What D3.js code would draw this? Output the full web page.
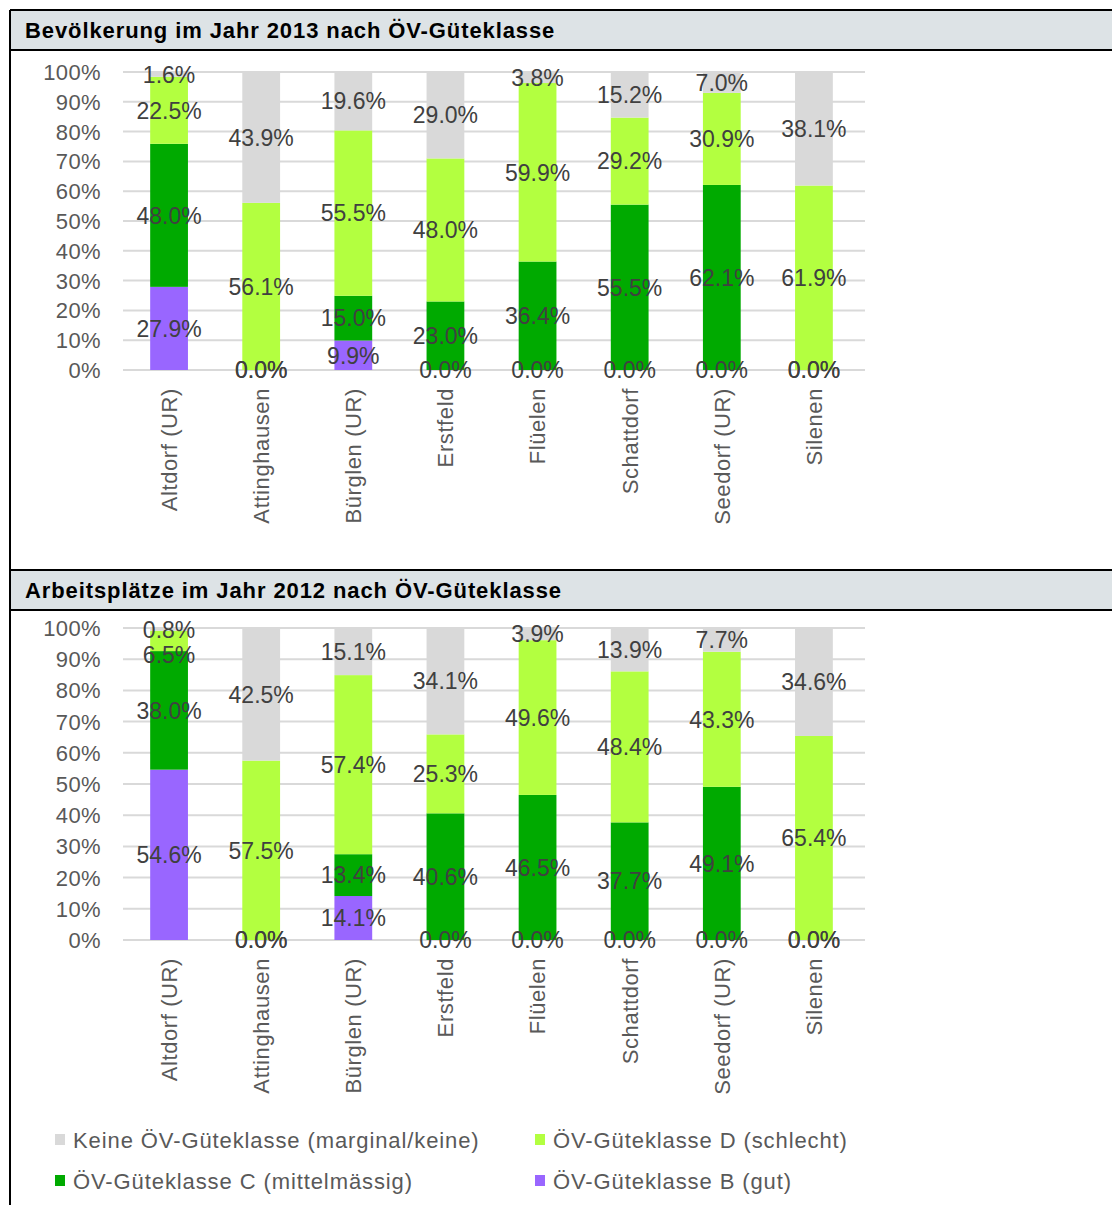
<!DOCTYPE html>
<html>
<head>
<meta charset="utf-8">
<script src="https://cdn.jsdelivr.net/npm/d3@7"></script>
<style>
  body { margin: 0; background: #fff; }
  svg { display: block; font-family: "Liberation Sans", Arial, sans-serif; }
</style>
</head>
<body>
<div id="chart"></div>
<script>
// Categories and tick labels
const categories = ["Altdorf (UR)", "Attinghausen", "Bürglen (UR)", "Erstfeld", "Flüelen", "Schattdorf", "Seedorf (UR)", "Silenen"];
const yTicks = [0, 10, 20, 30, 40, 50, 60, 70, 80, 90, 100];

// Series (bottom to top in the stack)
const seriesKeys = ["B", "C", "D", "K"];
const seriesNames = {
    K: "Keine ÖV-Güteklasse (marginal/keine)",
    D: "ÖV-Güteklasse D (schlecht)",
    C: "ÖV-Güteklasse C (mittelmässig)",
    B: "ÖV-Güteklasse B (gut)"
};
const seriesColors = { K: "#d9d9d9", D: "#b3ff40", C: "#00aa00", B: "#9966ff" };
const legendOrder = ["K", "D", "C", "B"];

// Bevölkerung 2013 (%)
const pop_B = [27.9, 0.0, 9.9, 0.0, 0.0, 0.0, 0.0, 0.0];
const pop_C = [48.0, 0.0, 15.0, 23.0, 36.4, 55.5, 62.1, 0.0];
const pop_D = [22.5, 56.1, 55.5, 48.0, 59.9, 29.2, 30.9, 61.9];
const pop_K = [1.6, 43.9, 19.6, 29.0, 3.8, 15.2, 7.0, 38.1];

// Arbeitsplätze 2012 (%)
const job_B = [54.6, 0.0, 14.1, 0.0, 0.0, 0.0, 0.0, 0.0];
const job_C = [38.0, 0.0, 13.4, 40.6, 46.5, 37.7, 49.1, 0.0];
const job_D = [6.5, 57.5, 57.4, 25.3, 49.6, 48.4, 43.3, 65.4];
const job_K = [0.8, 42.5, 15.1, 34.1, 3.9, 13.9, 7.7, 34.6];

const W = 1112, H = 1205;

const svg = d3.select("#chart")
    .append("svg")
    .attr("width", W)
    .attr("height", H);

// Build rows for d3.stack
function buildRows(B, C, D, K) {
    return categories.map((c, i) => ({ cat: c, B: B[i], C: C[i], D: D[i], K: K[i] }));
}

const x = d3.scaleBand()
    .domain(categories)
    .range([123, 860])
    .paddingInner(0.59)
    .paddingOuter(0.295);

function drawPanel(title, rows, headerTop, yBottom, yTop) {
    const g = svg.append("g");

    // Header box
    g.append("rect")
        .attr("x", 10).attr("y", headerTop)
        .attr("width", W - 10).attr("height", 40)
        .attr("fill", "#dde3e6");
    g.append("text")
        .attr("x", 25).attr("y", headerTop + 28)
        .attr("font-size", "22px")
        .attr("font-weight", "bold")
        .attr("letter-spacing", "0.9px")
        .attr("fill", "#000")
        .text(title);

    const y = d3.scaleLinear().domain([0, 100]).range([yBottom, yTop]);

    // Grid lines
    g.append("g")
        .selectAll("line")
        .data(yTicks)
        .enter()
        .append("line")
        .attr("x1", 123).attr("x2", 865)
        .attr("y1", d => y(d)).attr("y2", d => y(d))
        .attr("stroke", "#d9d9d9")
        .attr("stroke-width", 2);

    // Y tick labels
    g.append("g")
        .selectAll("text")
        .data(yTicks)
        .enter()
        .append("text")
        .attr("x", 101)
        .attr("y", d => y(d))
        .attr("dy", "0.36em")
        .attr("text-anchor", "end")
        .attr("font-size", "22px")
        .attr("letter-spacing", "0.4px")
        .attr("fill", "#595959")
        .text(d => d + "%");

    const stacked = d3.stack().keys(seriesKeys)(rows);

    // Bars
    g.append("g")
        .selectAll("g")
        .data(stacked)
        .enter()
        .append("g")
        .attr("fill", d => seriesColors[d.key])
        .selectAll("rect")
        .data(d => d)
        .enter()
        .append("rect")
        .attr("x", d => x(d.data.cat))
        .attr("width", x.bandwidth())
        .attr("y", d => y(d[1]))
        .attr("height", d => y(d[0]) - y(d[1]));

    // Value labels: centred in each segment, nudged down when two
    // non-zero labels in the same bar would collide
    const labels = [];
    categories.forEach((c, i) => {
        let prevY = -Infinity;
        [...stacked].reverse().forEach(s => {
            const d = s[i];
            const v = d.data[s.key];
            let ly = y((d[0] + d[1]) / 2);
            if (v > 0) {
                if (ly < prevY + 25) ly = prevY + 25;
                prevY = ly;
            }
            labels.push({ cat: c, v: v, y: ly });
        });
    });

    g.append("g")
        .selectAll("text")
        .data(labels)
        .enter()
        .append("text")
        .attr("x", d => x(d.cat) + x.bandwidth() / 2)
        .attr("y", d => d.y)
        .attr("dy", "0.36em")
        .attr("text-anchor", "middle")
        .attr("font-size", "23px")
        .attr("fill", "#404040")
        .text(d => d3.format(".1f")(d.v) + "%");

    // Category labels (rotated)
    g.append("g")
        .selectAll("text")
        .data(categories)
        .enter()
        .append("text")
        .attr("transform", d => `translate(${x(d) + x.bandwidth() / 2},${yBottom + 18}) rotate(-90)`)
        .attr("dy", "0.36em")
        .attr("text-anchor", "end")
        .attr("font-size", "22px")
        .attr("letter-spacing", "0.6px")
        .attr("fill", "#595959")
        .text(d => d);
}

drawPanel("Bevölkerung im Jahr 2013 nach ÖV-Güteklasse", buildRows(pop_B, pop_C, pop_D, pop_K), 10, 370, 72);
drawPanel("Arbeitsplätze im Jahr 2012 nach ÖV-Güteklasse", buildRows(job_B, job_C, job_D, job_K), 570, 940, 628);

// Frame lines
const frame = svg.append("g").attr("stroke", "#000").attr("stroke-width", 2);
frame.append("line").attr("x1", 10).attr("x2", 10).attr("y1", 10).attr("y2", H);
[10, 50, 570, 610].forEach(yy => {
    frame.append("line").attr("x1", 10).attr("x2", W).attr("y1", yy).attr("y2", yy);
});

// Legend
const legend = svg.append("g");
legendOrder.forEach((k, i) => {
    const col = i % 2, row = Math.floor(i / 2);
    const lx = col === 0 ? 55 : 535;
    const ly = 1140 + row * 41;
    legend.append("rect")
        .attr("x", lx).attr("y", ly - 6)
        .attr("width", 10).attr("height", 11)
        .attr("fill", seriesColors[k]);
    legend.append("text")
        .attr("x", lx + 18).attr("y", ly)
        .attr("dy", "0.36em")
        .attr("font-size", "22px")
        .attr("letter-spacing", "0.9px")
        .attr("fill", "#595959")
        .text(seriesNames[k]);
});
</script>
</body>
</html>
